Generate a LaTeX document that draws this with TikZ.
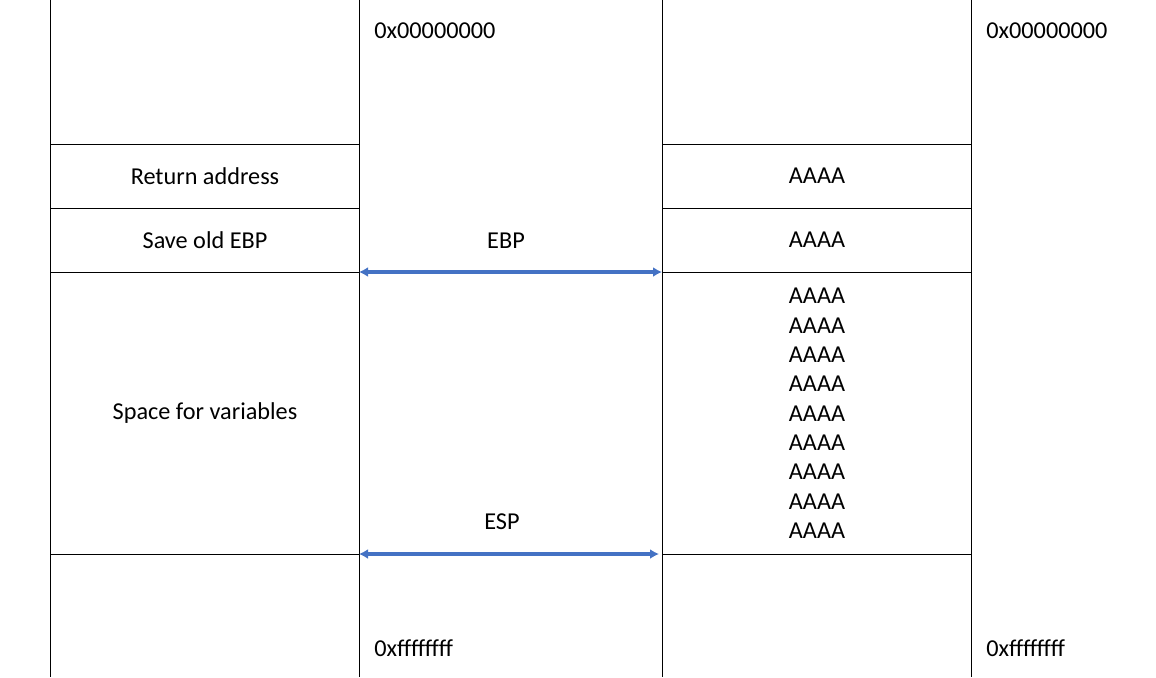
\documentclass[tikz,border=0pt]{standalone}
\usepackage{fontspec}
\setmainfont{Carlito}
\usepackage{tikz}
\usepackage{color}
\usetikzlibrary{arrows.meta}
\definecolor{arrowblue}{HTML}{4472C4}

\begin{document}
\begin{tikzpicture}[x=0.02cm,y=-0.02cm,
  every node/.style={inner sep=0pt, font=\fontsize{13.8}{16.7}\selectfont},
  wall/.style={black, line width=0.5pt},
  ptr/.style={arrowblue, line width=0.07cm,
    {Latex[length=0.18cm,width=0.2cm]}-{Latex[length=0.18cm,width=0.2cm]}}]
\useasboundingbox (0,0) rectangle (1156,677);

% left stack
\draw[wall] (50,0) -- (50,677);
\draw[wall] (359,0) -- (359,677);
\foreach \y in {144,208,272,554}
  \draw[wall] (50,\y) -- (359,\y);

% right stack
\draw[wall] (662,0) -- (662,677);
\draw[wall] (971,0) -- (971,677);
\foreach \y in {144,208,272,554}
  \draw[wall] (662,\y) -- (971,\y);

% addresses
\node[anchor=west] (topL) at (374,31) {0x00000000};
\node[anchor=west] (botL) at (374,648) {0xffffffff};
\node[anchor=west] (topR) at (986,31) {0x00000000};
\node[anchor=west] (botR) at (986,648) {0xffffffff};

% frame contents
\node (ret) at (205,176) {Return address};
\node (oldebp) at (205,240) {Save old EBP};
\node (vars) at (205,413) {Space for variables};

\node (retA) at (817,176) {AAAA};
\node (ebpA) at (817,240) {AAAA};
\node[align=center] (varsA) at (817,413.5)
  {AAAA\\AAAA\\AAAA\\AAAA\\AAAA\\AAAA\\AAAA\\AAAA\\AAAA};

% registers
\coordinate (ebpL) at (359,272);
\coordinate (ebpR) at (662,272);
\coordinate (espL) at (359,554);
\coordinate (espR) at (659,554);
\node (ebp) at (506,241) {EBP};
\node (esp) at (502,522) {ESP};
\draw[ptr] (ebpL) -- (ebpR);
\draw[ptr] (espL) -- (espR);
\end{tikzpicture}
\end{document}
